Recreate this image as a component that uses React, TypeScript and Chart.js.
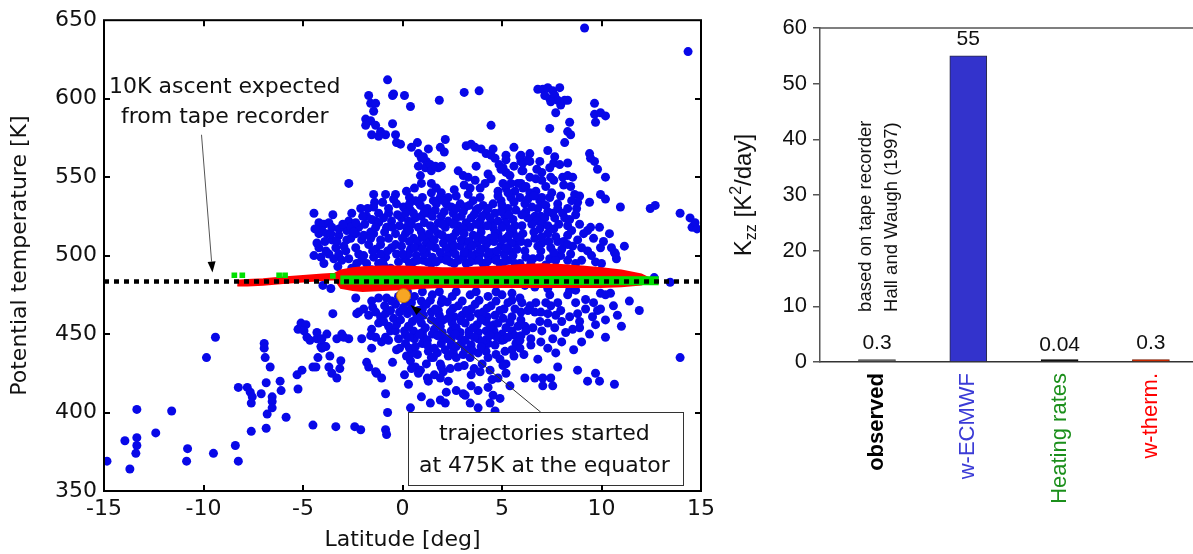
import React, { useEffect, useRef } from 'react';
import { Chart, registerables } from 'chart.js';

Chart.register(...registerables);

const SANS_WIDE = '"DejaVu Sans", "Liberation Sans", sans-serif';
const SANS = '"Liberation Sans", Arial, Helvetica, sans-serif';

// ---------------- Left panel: scatter ----------------
const latTicks = [-15, -10, -5, 0, 5, 10, 15];
const thetaTicks = [350, 400, 450, 500, 550, 600, 650];

// ECMWF trajectories (blue) [latitude, potential temperature]
const blueWest: [number, number][] = [
  [-14.85, 369], [-13.95, 382], [-13.7, 364], [-13.35, 402], [-13.35, 384], [-13.35, 379], [-13.4, 374], [-12.4, 387],
  [-11.6, 401], [-10.8, 377], [-10.85, 369], [-9.85, 435], [-9.4, 448], [-9.5, 374], [-8.4, 379], [-8.25, 369],
  [-8.25, 416], [-7.6, 388], [-7.8, 416], [-7.65, 413], [-7.55, 410], [-7.6, 406], [-7.1, 412], [-6.95, 444],
  [-6.95, 441], [-6.9, 435], [-6.65, 429], [-6.85, 419], [-6.55, 410], [-6.55, 407], [-6.55, 403], [-6.8, 399],
  [-6.85, 390], [-6.15, 420], [-6.1, 414], [-5.85, 397], [-5.25, 415], [-5.3, 424], [-5.05, 427], [-5.25, 453],
  [-5.1, 457], [-4.85, 456], [-4.8, 448], [-4.65, 446], [-4.5, 429], [-4.5, 392], [-4.95, 452],
];

const blueWestCore: [number, number][] = [
  [-4.3, 447], [-4.3, 451], [-4.1, 442], [-4.25, 435], [-3.95, 442], [-3.8, 450], [-3.7, 429], [-3.65, 436],
  [-3.55, 425], [-3.5, 463], [-3.35, 391], [-3.3, 422], [-3.15, 428], [-3.1, 433], [-3.3, 447], [-3.05, 450],
  [-2.7, 447], [-2.4, 391], [-2.1, 389], [-2.05, 447], [-2.35, 473], [-2.3, 463], [-1.8, 432], [-1.7, 429],
  [-1.55, 441], [-1.35, 448], [-1.3, 425], [-1.05, 422], [-0.85, 412], [-0.75, 400], [-0.85, 389], [-0.8, 386],
  [-1.05, 445], [-0.85, 448], [-0.6, 452], [-0.7, 446], [-4.35, 429], [-1.35, 426], [-4.05, 441], [-2.2, 464],
  [-1.95, 466], [-1.7, 462], [-1.35, 464], [-1.1, 461], [-0.85, 463], [-0.6, 465], [-0.45, 460], [-1.2, 457],
  [-0.7, 455], [-1.55, 453], [-0.35, 452], [-1.55, 471], [-1.2, 473], [-0.8, 473], [-4.0, 481], [-3.6, 479],
  [-3.85, 442], [-2.95, 448], [-1.6, 449], [-4.05, 447], [-0.35, 469], [-0.3, 440], [-0.5, 432],
  [-0.2, 474], [-0.55, 471], [-0.2, 447], [-0.9, 468], [-1.5, 467], [-0.95, 458],
];

const blueNorth: [number, number][] = [
  [9.15, 645], [14.35, 630], [-0.75, 612], [-0.5, 602], [0.1, 602], [0.4, 595], [1.85, 599], [3.1, 604], [3.85, 605],
  [6.8, 606], [7.05, 606], [7.3, 607], [7.55, 605], [7.15, 602], [7.4, 600], [7.65, 602], [7.9, 607], [7.8, 599],
  [7.95, 596], [8.15, 599], [8.3, 599], [7.7, 591], [7.45, 598], [9.65, 597], [9.65, 590], [9.7, 585], [9.95, 591],
  [10.2, 589], [8.4, 585], [8.3, 579], [8.45, 577], [8.15, 572], [7.4, 581], [-1.7, 602], [-1.6, 597], [-1.35, 597],
  [-1.45, 592], [-1.85, 587], [-1.6, 586], [-1.35, 583], [-1.1, 579], [-0.85, 577], [-1.2, 576], [-0.5, 584],
  [-1.55, 577], [-1.85, 583], [-0.35, 577], [-0.3, 572], [-0.45, 603], [4.45, 583], [-0.1, 571], [0.75, 572],
  [0.45, 569], [2.15, 574], [2.1, 566], [3.2, 570], [3.45, 571], [3.65, 569], [3.95, 568], [4.2, 565], [4.45, 564],
  [4.65, 562], [4.85, 558], [5.05, 556], [5.2, 553], [5.4, 551], [4.55, 568], [5.6, 569], [5.2, 564], [5.2, 561],
  [5.95, 564], [6.4, 565], [5.95, 560], [6.4, 560], [7.3, 567], [7.65, 563], [7.6, 559], [7.9, 558], [8.3, 559],
  [8.05, 550], [8.3, 551], [8.55, 550], [8.45, 544], [8.65, 539], [8.9, 538], [7.95, 538], [9.4, 565], [9.45, 562],
  [9.65, 560], [9.8, 555], [10.2, 550], [9.95, 539], [10.2, 536], [0.8, 565], [0.95, 562], [1.2, 560], [0.8, 557],
  [1.15, 556], [1.4, 558], [1.45, 554], [1.9, 569], [1.8, 556], [1.3, 568], [0.9, 551], [0.95, 546], [1.65, 557],
  [1.95, 557], [1.05, 563], [2.8, 554], [3.05, 551], [3.3, 550], [3.65, 548], [3.7, 557], [4.3, 552], [4.45, 549],
  [4.15, 546], [5.05, 546], [5.8, 546], [6.0, 554], [6.4, 550], [6.7, 549], [3.4, 543], [3.9, 543], [4.95, 555],
  [5.45, 546], [5.65, 541], [1.45, 546], [1.7, 543], [1.95, 540], [2.7, 538], [3.3, 539], [-2.7, 546], [-1.45, 539],
  [-0.85, 539], [-0.35, 539], [5.9, 563], [6.05, 559], [6.3, 561], [6.05, 554], [5.95, 546], [6.05, 543], [6.4, 540],
  [7.0, 553], [7.4, 556], [6.9, 560], [5.6, 557], [7.2, 544], [7.6, 548], [8.1, 545], [6.7, 541],
];

const blueBand: [number, number][] = [
  [5.45, 537], [4.95, 535], [4.55, 533], [5.3, 530], [5.7, 529], [5.15, 525], [4.65, 527], [1.45, 540], [2.3, 537],
  [1.9, 537], [1.55, 535], [2.2, 533], [2.45, 531], [2.9, 533], [3.15, 531], [3.55, 535], [3.9, 537], [4.05, 532],
  [3.7, 529], [9.4, 534], [8.75, 530], [10.95, 531], [12.45, 530], [12.7, 532], [13.95, 527], [14.45, 524],
  [14.55, 518], [14.7, 521], [14.8, 517], [9.3, 516], [9.45, 518], [10.4, 514], [11.15, 506], [10.65, 502],
  [10.75, 498], [9.3, 503], [9.95, 505], [5.9, 537], [6.3, 536], [6.15, 533], [6.9, 535], [7.05, 533], [7.2, 532],
  [6.8, 530], [6.65, 525], [6.95, 525], [7.15, 524], [6.75, 522], [6.5, 520], [7.0, 520], [7.3, 519], [7.8, 533],
  [7.8, 530], [8.05, 527], [8.15, 524], [8.3, 519], [7.65, 524], [-4.45, 527], [-4.2, 521], [-3.95, 520],
  [-3.7, 521], [-3.55, 518], [-4.2, 514], [-4.05, 516], [-3.8, 514], [-3.55, 510], [-3.35, 505], [-4.2, 505],
  [-4.1, 499], [-3.95, 495], [-3.7, 501], [-3.45, 498], [-3.2, 501], [-3.05, 497], [-2.85, 503], [-2.8, 510],
  [-2.8, 516], [-2.7, 522], [-2.55, 527], [-2.6, 511], [-2.35, 505], [-2.2, 501], [-2.3, 495], [-2.55, 492],
  [-2.05, 510], [-2.05, 497], [-4.3, 508], [-3.6, 514], [-3.2, 513], [-2.6, 518], [-1.45, 531], [-1.2, 527],
  [-0.7, 527], [-0.3, 533], [-1.35, 522], [-0.8, 518], [-0.35, 514], [-1.45, 514], [-1.1, 510], [-0.55, 505],
  [-1.35, 504], [-0.85, 499], [-0.3, 501], [-1.2, 495], [-0.6, 492], [-1.45, 499], [-1.95, 513], [-1.6, 515],
  [-0.7, 511], [-1.95, 500], [-1.8, 495], [-1.1, 501], [-1.1, 507], [-0.35, 507], [-0.7, 530], [-1.55, 523],
  [-1.2, 521], [-0.55, 522], [-1.7, 507], [-1.9, 520], [-1.75, 530], [0.35, 537], [0.65, 535], [1.0, 537],
  [0.05, 531], [0.4, 529], [0.9, 532], [1.25, 530], [-0.05, 524], [0.3, 522], [0.65, 524], [0.95, 525], [1.3, 527],
  [1.65, 529], [1.95, 525], [0.2, 518], [0.8, 518], [1.4, 519], [1.8, 521], [2.3, 522], [2.55, 527], [2.95, 525],
  [3.2, 521], [3.45, 524], [3.9, 522], [4.2, 527], [4.45, 521], [4.8, 522], [5.2, 521], [5.55, 523], [5.65, 519],
  [4.55, 518], [3.95, 518], [3.4, 518], [2.8, 519], [2.15, 518], [0.15, 514], [0.55, 511], [0.95, 515], [1.4, 511],
  [1.8, 514], [2.3, 511], [2.7, 515], [3.15, 509], [3.55, 513], [3.95, 515], [4.4, 511], [4.8, 514], [5.2, 511],
  [5.55, 515], [-0.05, 506], [0.4, 504], [0.8, 506], [1.2, 502], [1.65, 505], [2.05, 508], [2.45, 503], [2.9, 506],
  [3.3, 504], [3.7, 501], [4.15, 505], [4.55, 502], [4.95, 506], [5.4, 503], [5.7, 508], [0.15, 498], [0.55, 496],
  [1.05, 497], [1.45, 495], [1.95, 498], [2.4, 496], [2.8, 497], [3.2, 495], [3.65, 497], [4.05, 495], [4.45, 498],
  [4.9, 495], [5.3, 497], [5.65, 495], [6.05, 514], [6.65, 511], [7.3, 514], [7.8, 509], [8.3, 513], [8.55, 506],
  [7.45, 505], [6.95, 503], [6.15, 503], [6.55, 498], [7.4, 498], [7.95, 500], [8.45, 501], [10.7, 501], [5.9, 495],
  [6.45, 495], [6.3, 508], [7.0, 508], [8.0, 504], [8.8, 510], [9.0, 497], [6.9, 517], [7.6, 517], [5.95, 509],
  [8.7, 495], [7.2, 494], [9.7, 496],
];

// extra dense core of the blue cloud
const blueCoreFill: [number, number][] = [
  [0.3, 501], [0.7, 500], [1.1, 501], [1.5, 499], [1.9, 502], [2.25, 500], [2.65, 501], [3.05, 499], [3.45, 500],
  [3.9, 501], [4.3, 500], [4.7, 499], [5.1, 501], [5.55, 500], [0.35, 509], [0.75, 509], [1.2, 508], [1.6, 510],
  [2.5, 508], [2.95, 510], [3.35, 509], [3.75, 508], [4.25, 508], [4.6, 509], [5.0, 510], [5.45, 508],
  [0.2, 541], [0.6, 543], [2.6, 542], [3.1, 545], [4.8, 541], [5.2, 543], [-2.95, 506], [-3.3, 509], [-3.9, 509],
  [-2.35, 514], [-2.2, 518], [-1.8, 525], [-2.35, 521], [-1.0, 534], [-0.25, 526], [-0.15, 519], [-2.1, 530],
  [-3.2, 517], [-3.85, 503], [-4.45, 500], [-4.4, 517], [-1.55, 491], [-0.95, 494], [6.0, 519], [6.3, 524],
  [6.6, 515], [7.0, 512], [7.35, 509], [7.7, 512], [8.1, 509], [8.5, 516], [8.9, 520], [8.4, 523], [9.1, 514],
  [9.6, 511], [10.1, 509], [9.0, 505], [9.5, 500], [6.2, 499], [6.9, 499], [7.7, 497], [8.3, 497], [6.8, 506],
  [7.6, 502], [8.3, 507], [10.0, 495], [10.5, 505], [9.9, 518], [8.8, 534], [7.4, 537], [7.55, 527], [7.5, 540],
  [5.3, 540], [4.8, 538],
  [0.25, 463], [0.65, 464], [1.05, 462], [1.45, 464], [1.85, 462], [2.6, 461], [3.0, 462], [3.4, 461], [3.8, 463],
  [4.25, 461], [4.65, 462], [5.05, 460], [5.5, 461], [0.1, 452], [0.55, 452], [1.0, 451], [1.6, 453], [2.0, 451],
  [2.45, 452], [2.9, 451], [3.35, 452], [3.8, 451], [4.2, 452], [4.6, 452], [5.0, 450], [5.5, 452], [0.15, 444],
  [1.0, 444], [1.95, 444], [2.45, 443], [2.95, 444], [3.45, 443], [4.3, 444], [5.0, 446], [5.7, 444], [0.25, 477],
  [1.0, 477], [1.85, 477], [2.7, 477], [3.7, 477], [4.7, 477], [5.5, 476], [6.0, 470], [6.7, 470], [6.9, 458],
  [7.3, 457], [7.0, 452], [8.0, 458], [8.4, 461], [8.9, 458], [9.2, 466], [8.7, 470], [9.2, 472], [9.6, 470],
  [10.6, 468], [10.8, 462], [11.0, 455], [9.0, 445], [8.0, 445], [8.6, 440], [6.1, 437], [6.8, 434], [5.6, 436],
  [5.9, 441], [0.2, 436], [0.75, 437], [2.3, 436], [3.05, 437], [3.8, 438], [4.7, 437], [5.5, 440], [0.4, 433],
  [1.2, 431], [2.4, 428], [3.1, 430], [4.0, 431], [4.9, 434], [2.05, 426], [3.6, 428], [4.5, 421], [0.1, 424],
  [0.3, 418], [5.2, 425],
];

// second layer of the densest part
const blueCoreFill2: [number, number][] = [
  [0.2, 470.5], [0.95, 471], [1.4, 471.5], [2.25, 470.5], [3.0, 471], [3.85, 471.5], [4.7, 471], [5.5, 471.5],
  [0.4, 465.5], [1.0, 466], [1.8, 465], [2.55, 466.5], [3.45, 466], [4.25, 466.5], [5.1, 466], [5.95, 464],
  [0.5, 458], [0.95, 457], [1.7, 457.5], [2.05, 459], [2.5, 457], [2.95, 458.5], [3.75, 456], [4.2, 458], [4.6, 456],
  [5.4, 457.5], [5.8, 455], [0.15, 449.5], [0.6, 447], [1.05, 448], [1.5, 450], [2.0, 448], [2.45, 447], [2.85, 448.5],
  [3.35, 449.5], [3.8, 447], [4.2, 446.5], [4.75, 448], [5.1, 446.5], [5.65, 449], [0.5, 438], [1.3, 439], [1.75, 438],
  [2.55, 438.5], [3.5, 439.5], [4.2, 439], [5.15, 439], [-0.15, 464], [-0.3, 456], [-0.15, 441],
  [0.35, 533], [0.8, 534], [1.7, 533], [2.05, 535], [2.7, 530], [3.35, 532], [3.8, 530], [4.3, 530], [5.0, 532],
  [5.6, 534], [0.15, 527], [0.55, 527], [1.1, 528], [1.5, 525], [2.1, 528], [2.7, 524], [3.05, 528], [3.6, 526],
  [4.0, 525], [4.4, 524], [4.95, 528], [5.35, 526], [0.45, 520], [1.1, 521], [1.6, 517], [2.0, 520], [2.55, 520],
  [3.05, 517], [3.7, 520], [4.25, 519], [4.65, 515], [5.0, 518], [5.4, 517], [0.0, 511], [0.35, 516], [1.0, 512],
  [1.35, 514], [2.0, 513], [2.55, 512], [3.1, 514], [3.75, 512], [4.05, 510], [4.6, 512], [5.35, 513], [5.75, 512],
  [0.0, 501], [0.6, 505], [1.0, 504], [1.4, 506], [2.2, 505], [2.6, 506], [3.1, 502], [3.5, 506], [3.9, 504],
  [4.35, 502], [4.75, 503], [5.2, 505], [5.75, 504], [0.35, 495], [0.75, 497], [1.25, 496], [1.7, 496], [2.2, 497],
  [2.6, 495], [3.4, 496], [3.85, 497], [4.25, 496], [4.7, 497], [5.1, 496], [6.2, 528], [6.5, 531], [7.3, 528],
  [7.0, 537], [8.5, 535], [8.3, 530], [6.0, 526], [8.7, 526], [7.85, 520], [6.6, 538], [6.2, 544], [7.0, 548],
  [7.45, 550], [6.75, 555], [-3.0, 520], [-2.45, 515], [-1.6, 511], [-0.9, 515], [-1.35, 518], [-0.5, 518],
  [-0.95, 524], [-2.0, 525], [-1.4, 534], [-0.45, 536], [-3.5, 526], [-3.25, 493], [-2.7, 498], [-1.5, 503],
  [-0.75, 503], [-0.2, 496], [-1.0, 496],
];

const blueSouth: [number, number][] = [
  [0.05, 467], [0.45, 470], [0.8, 465], [1.2, 469], [1.65, 466], [1.95, 470], [2.4, 464], [2.8, 468], [3.2, 465],
  [3.65, 469], [4.05, 464], [4.45, 468], [4.9, 465], [5.3, 470], [5.65, 466], [-0.1, 459], [0.3, 455], [0.7, 460],
  [1.15, 454], [1.45, 459], [1.9, 455], [2.3, 460], [2.7, 454], [3.15, 457], [3.55, 454], [3.95, 459], [4.4, 455],
  [4.8, 457], [5.2, 454], [0.35, 448], [0.85, 450], [1.25, 446], [1.75, 449], [2.25, 447], [2.65, 450], [3.15, 446],
  [3.6, 448], [4.0, 445], [4.4, 449], [5.3, 448], [0.6, 474], [1.5, 475], [2.5, 474], [3.4, 475], [4.3, 474],
  [5.0, 475], [5.9, 473], [2.0, 472], [6.15, 481], [6.65, 480], [7.3, 479], [7.4, 475], [7.2, 470], [7.45, 468],
  [7.8, 470], [8.3, 475], [8.4, 478], [8.7, 478], [9.95, 476], [10.2, 475], [10.45, 476], [11.4, 471], [11.9, 465],
  [6.4, 468], [6.3, 465], [6.65, 464], [6.95, 464], [7.3, 463], [7.7, 462], [7.95, 465], [8.8, 463], [9.8, 465],
  [9.95, 466], [9.55, 461], [10.2, 459], [9.7, 456], [5.95, 459], [6.15, 455], [6.55, 454], [6.2, 452], [5.95, 449],
  [6.45, 447], [6.45, 443], [7.65, 454], [7.55, 447], [7.3, 441], [7.7, 438], [8.2, 451], [8.55, 453], [8.9, 454],
  [9.4, 450], [10.2, 448], [5.9, 446], [6.95, 445], [12.65, 486], [13.45, 483], [0.35, 441], [0.65, 442], [1.25, 443],
  [1.6, 441], [2.15, 440], [2.7, 442], [3.15, 440], [3.95, 442], [4.65, 443], [1.45, 435], [1.9, 431], [2.7, 435],
  [3.4, 435], [4.3, 435], [5.2, 431], [0.65, 429], [0.9, 427], [1.25, 422], [1.6, 424], [1.9, 422], [2.8, 429],
  [3.45, 424], [3.9, 426], [4.4, 427], [4.8, 422], [2.2, 413], [3.05, 412], [3.45, 417], [3.8, 414], [4.3, 416],
  [4.55, 411], [4.9, 409], [1.9, 408], [2.15, 406], [3.4, 406], [3.8, 403], [4.4, 406], [4.65, 401], [0.4, 403],
  [1.4, 406], [0.95, 410], [0.8, 425], [1.55, 435], [1.95, 429], [1.3, 420], [2.3, 420], [2.7, 414], [3.15, 411],
  [5.05, 430], [5.4, 417], [6.15, 422], [6.65, 422], [7.05, 422], [7.45, 422], [7.55, 417], [7.05, 417], [7.8, 429],
  [8.8, 427], [9.3, 420], [9.7, 425], [9.9, 420], [10.65, 418], [13.95, 435], [0.45, 428],
];

// w-thermodynamic trajectories (red band)
const redLat = [-8.3, -7.8, -7, -6, -5, -4, -3.4, -3.1, -2.5, -2, -1, 0, 1, 2, 3, 4, 5, 6, 7, 8, 9, 10, 11, 12, 12.4];
const redUpper = [484, 484.5, 485, 486, 487, 488, 488.5, 490.5, 492, 492.5, 493, 493, 492.5, 492, 492, 492.5, 493, 494, 494.5, 494, 493, 492, 490.5, 488, 485.5];
const redLower = [481, 481, 481.5, 482.5, 483.5, 484.5, 485, 479.5, 478, 477.5, 478, 478.5, 479.5, 480, 480, 480, 480, 480, 480, 480, 480, 480, 480.5, 481.5, 483.5];

// heating-rate trajectories (green)
const greenBandLat = [-2.9, 12.65];
const greenBandTheta = [484.5, 484];
const greenSquares: [number, number][] = [[-8.45, 487.5], [-8.05, 487.5], [-6.2, 487.5], [-5.9, 487.5], [-3.5, 487]];

const tapeRecorderTheta = 483.5;
const tapeRecorderLat = [-15, 15];
const startPoint: [number, number] = [0.05, 474.5];

// annotations (data coordinates)
const ascentNote = ['10K ascent expected', 'from tape recorder'];
const ascentNoteLat = -8.93;
const ascentNoteTheta = [603.6, 584.5];
const ascentArrow = [-10.1, 577, -9.55, 489.2];
const startNote = ['trajectories started', 'at 475K at the equator'];
const startNoteLat = 7.13;
const startNoteTheta = [382.4, 362.3];
const startNoteBox = [0.3, 14.1, 400.2, 353.8];
const startArrow = [6.95, 400.2, 0.4, 468.5];

// ---------------- Right panel: bars ----------------
const barX = [1, 2, 3, 4];
const barCategories = ['observed', 'w-ECMWF', 'Heating rates', 'w-therm.'];
const barValues = [0.3, 55, 0.04, 0.3];
const barValueText = ['0.3', '55', '0.04', '0.3'];
const barTickValues = [0, 10, 20, 30, 40, 50, 60];
const barNote = ['based on tape recorder', 'Hall and Waugh (1997)'];
const barNoteX = [0.935, 1.219];
const barNoteY = 9;

const barLabelColors = ['#000000', '#3b3bd6', '#1b8f1b', '#ff0000'];
const barFillColors = ['#666666', '#3333cc', '#111111', '#cc2a00'];
const barBorderColors = ['#444444', '#2a2a44', '#000000', '#7a1a00'];

function drawArrow(ctx: any, x1: number, y1: number, x2: number, y2: number, color: string, headLen: number, headHalf: number) {
  const ang = Math.atan2(y2 - y1, x2 - x1);
  const bx = x2 - headLen * Math.cos(ang);
  const by = y2 - headLen * Math.sin(ang);
  ctx.strokeStyle = color;
  ctx.lineWidth = 1;
  ctx.beginPath();
  ctx.moveTo(x1, y1);
  ctx.lineTo(bx, by);
  ctx.stroke();
  ctx.fillStyle = '#000';
  ctx.beginPath();
  ctx.moveTo(x2, y2);
  ctx.lineTo(bx + headHalf * Math.sin(ang), by - headHalf * Math.cos(ang));
  ctx.lineTo(bx - headHalf * Math.sin(ang), by + headHalf * Math.cos(ang));
  ctx.closePath();
  ctx.fill();
}

const scatterDecor = {
  id: 'scatterDecor',
  afterDatasetsDraw(chart: any) {
    const { ctx, scales } = chart;
    const px = (v: number) => scales.x.getPixelForValue(v);
    const py = (v: number) => scales.y.getPixelForValue(v);
    ctx.save();
    const bl = px(startNoteBox[0]), br = px(startNoteBox[1]);
    const bt = py(startNoteBox[2]), bb = py(startNoteBox[3]);
    ctx.fillStyle = '#ffffff';
    ctx.fillRect(bl, bt, br - bl, bb - bt);
    ctx.strokeStyle = '#333';
    ctx.lineWidth = 1;
    ctx.strokeRect(Math.round(bl) + 0.5, Math.round(bt) + 0.5, Math.round(br - bl), Math.round(bb - bt));
    ctx.fillStyle = '#111';
    ctx.font = `22px ${SANS_WIDE}`;
    ctx.textAlign = 'center';
    ctx.textBaseline = 'alphabetic';
    startNote.forEach((t, i) => ctx.fillText(t, px(startNoteLat), py(startNoteTheta[i])));
    ascentNote.forEach((t, i) => ctx.fillText(t, px(ascentNoteLat), py(ascentNoteTheta[i])));
    drawArrow(ctx, px(ascentArrow[0]), py(ascentArrow[1]), px(ascentArrow[2]), py(ascentArrow[3]), '#555', 11, 4);
    drawArrow(ctx, px(startArrow[0]), py(startArrow[1]), px(startArrow[2]), py(startArrow[3]), '#333', 11, 4);
    ctx.restore();
  },
  afterDraw(chart: any) {
    const { ctx, chartArea: a, scales } = chart;
    const px = (v: number) => scales.x.getPixelForValue(v);
    const py = (v: number) => scales.y.getPixelForValue(v);
    ctx.save();
    ctx.strokeStyle = '#000';
    ctx.lineWidth = 2;
    ctx.strokeRect(a.left, a.top, a.right - a.left, a.bottom - a.top);
    ctx.beginPath();
    latTicks.slice(1, -1).forEach((v) => {
      const X = Math.round(px(v));
      ctx.moveTo(X, a.bottom); ctx.lineTo(X, a.bottom - 6);
      ctx.moveTo(X, a.top); ctx.lineTo(X, a.top + 6);
    });
    thetaTicks.slice(1, -1).forEach((v) => {
      const Y = Math.round(py(v));
      ctx.moveTo(a.left, Y); ctx.lineTo(a.left + 6, Y);
      ctx.moveTo(a.right, Y); ctx.lineTo(a.right - 6, Y);
    });
    ctx.stroke();
    ctx.fillStyle = '#111';
    ctx.font = `22px ${SANS_WIDE}`;
    ctx.textAlign = 'center';
    ctx.textBaseline = 'alphabetic';
    ctx.fillText('Latitude [deg]', (a.left + a.right) / 2, 546);
    ctx.translate(26, (a.top + a.bottom) / 2);
    ctx.rotate(-Math.PI / 2);
    ctx.fillText('Potential temperature [K]', 0, 0);
    ctx.restore();
  },
};

function ScatterPanel() {
  const ref = useRef<HTMLCanvasElement>(null);
  useEffect(() => {
    const pts = (arr: [number, number][]) => arr.map(([x, y]) => ({ x, y }));
    const blue = pts([...blueWest, ...blueWestCore, ...blueNorth, ...blueBand, ...blueCoreFill, ...blueCoreFill2, ...blueSouth]);
    const tickFont = { family: SANS_WIDE, size: 22 };
    const chart = new Chart(ref.current as HTMLCanvasElement, {
      type: 'scatter',
      data: {
        datasets: [
          {
            label: 'start', data: [{ x: startPoint[0], y: startPoint[1] }], pointRadius: 7,
            backgroundColor: '#f7a623', borderColor: '#b86e00', borderWidth: 1, order: 0,
          },
          {
            label: 'tape recorder', data: tapeRecorderLat.map((x) => ({ x, y: tapeRecorderTheta })), showLine: true,
            borderColor: '#000', borderWidth: 4.5, borderDash: [5, 5], borderCapStyle: 'butt', pointRadius: 0, order: 1,
          },
          {
            label: 'heating band', data: greenBandLat.map((x, i) => ({ x, y: greenBandTheta[i] })), showLine: true,
            borderColor: '#00e000', borderWidth: 9, borderCapStyle: 'square', pointRadius: 0, order: 2,
          },
          {
            label: 'heating', data: pts(greenSquares), pointStyle: 'rect', pointRadius: 4,
            backgroundColor: '#00e000', borderWidth: 0, order: 2,
          },
          {
            label: 'w-therm upper', data: redLat.map((x, i) => ({ x, y: redUpper[i] })), showLine: true,
            borderColor: '#ff0000', borderWidth: 2, pointRadius: 0, tension: 0, fill: '+1',
            backgroundColor: '#ff0000', order: 3,
          },
          {
            label: 'w-therm lower', data: redLat.map((x, i) => ({ x, y: redLower[i] })), showLine: true,
            borderColor: '#ff0000', borderWidth: 2, pointRadius: 0, tension: 0, fill: false, order: 3,
          },
          {
            label: 'w-ECMWF', data: blue, pointRadius: 4.5, backgroundColor: '#0808e8', borderWidth: 0, order: 5,
          },
        ],
      } as any,
      options: {
        animation: false,
        responsive: false,
        devicePixelRatio: 1,
        events: [],
        layout: { padding: { left: 0, right: 16, top: 19, bottom: 0 } },
        plugins: { legend: { display: false }, tooltip: { enabled: false } },
        scales: {
          x: {
            type: 'linear', min: -15, max: 15,
            afterBuildTicks: (s: any) => { s.ticks = latTicks.map((v) => ({ value: v })); },
            afterFit: (s: any) => { s.height = 63; },
            grid: { display: false, drawTicks: false },
            border: { display: false },
            ticks: { font: tickFont, color: '#111', padding: 5, maxRotation: 0, autoSkip: false },
          },
          y: {
            type: 'linear', min: 350, max: 650,
            afterBuildTicks: (s: any) => { s.ticks = thetaTicks.map((v) => ({ value: v })); },
            afterFit: (s: any) => { s.width = 104; },
            grid: { display: false, drawTicks: false },
            border: { display: false },
            ticks: { font: tickFont, color: '#111', padding: 7, autoSkip: false },
          },
        },
      } as any,
      plugins: [scatterDecor],
    });
    return () => chart.destroy();
  }, []);
  return <canvas ref={ref} width={720} height={554} style={{ display: 'block', width: 720, height: 554 }} />;
}

const barDecor = {
  id: 'barDecor',
  afterDraw(chart: any) {
    const { ctx, chartArea: a, scales } = chart;
    const px = (v: number) => scales.x.getPixelForValue(v);
    const py = (v: number) => scales.y.getPixelForValue(v);
    ctx.save();
    ctx.strokeStyle = '#555';
    ctx.lineWidth = 1.5;
    ctx.beginPath();
    ctx.moveTo(a.left, a.top);
    ctx.lineTo(a.right, a.top);
    ctx.stroke();
    ctx.fillStyle = '#111';
    ctx.font = `21px ${SANS}`;
    ctx.textAlign = 'center';
    ctx.textBaseline = 'alphabetic';
    barX.forEach((x, i) => ctx.fillText(barValueText[i], px(x), py(barValues[i]) - 11));
    ctx.font = `18.5px ${SANS}`;
    ctx.textAlign = 'left';
    barNote.forEach((t, i) => {
      ctx.save();
      ctx.translate(px(barNoteX[i]), py(barNoteY));
      ctx.rotate(-Math.PI / 2);
      ctx.fillText(t, 0, 0);
      ctx.restore();
    });
    const big = `24px ${SANS}`;
    const small = `16px ${SANS}`;
    const parts = [
      { t: 'K', f: big, dy: 0 },
      { t: 'zz', f: small, dy: 5 },
      { t: ' [K', f: big, dy: 0 },
      { t: '2', f: small, dy: -10 },
      { t: '/day]', f: big, dy: 0 },
    ];
    let total = 0;
    parts.forEach((p) => { ctx.font = p.f; total += ctx.measureText(p.t).width; });
    ctx.translate(31, (a.top + a.bottom) / 2);
    ctx.rotate(-Math.PI / 2);
    let xx = -total / 2;
    parts.forEach((p) => {
      ctx.font = p.f;
      ctx.fillText(p.t, xx, p.dy);
      xx += ctx.measureText(p.t).width;
    });
    ctx.restore();
  },
};

function BarPanel() {
  const ref = useRef<HTMLCanvasElement>(null);
  useEffect(() => {
    const chart = new Chart(ref.current as HTMLCanvasElement, {
      type: 'bar',
      data: {
        datasets: [
          {
            label: 'Kzz',
            data: barX.map((x, i) => ({ x, y: barValues[i] })),
            backgroundColor: barFillColors,
            borderColor: barBorderColors,
            borderWidth: 1,
            barThickness: 37,
            minBarLength: 2.5,
          },
        ],
      } as any,
      options: {
        animation: false,
        responsive: false,
        devicePixelRatio: 1,
        events: [],
        layout: { padding: { left: 0, right: 0, top: 28, bottom: 0 } },
        plugins: { legend: { display: false }, tooltip: { enabled: false } },
        scales: {
          x: {
            type: 'linear', min: 0.376, max: 4.461, offset: false,
            afterBuildTicks: (s: any) => { s.ticks = barX.map((v) => ({ value: v })); },
            afterFit: (s: any) => { s.height = 192; },
            grid: { display: false, drawTicks: false, offset: false },
            border: { display: true, color: '#333', width: 1.5 },
            ticks: {
              autoSkip: false, minRotation: 90, maxRotation: 90, padding: 11,
              callback: (v: any) => barCategories[barX.indexOf(Number(v))] ?? '',
              color: (c: any) => barLabelColors[c.index] ?? '#000',
              font: (c: any) => ({ family: SANS, size: 22, weight: c.index === 0 ? 'bold' : 'normal' }),
            },
          },
          y: {
            type: 'linear', min: 0, max: 60,
            afterBuildTicks: (s: any) => { s.ticks = barTickValues.map((v) => ({ value: v })); },
            afterFit: (s: any) => { s.width = 100; },
            grid: { display: true, drawOnChartArea: false, drawTicks: true, tickLength: 7, color: '#555', lineWidth: 1.5 },
            border: { display: true, color: '#555', width: 1.5 },
            ticks: { padding: 6, color: '#111', font: { family: SANS, size: 22 }, autoSkip: false },
          },
        },
      } as any,
      plugins: [barDecor],
    });
    return () => chart.destroy();
  }, []);
  return <canvas ref={ref} width={473} height={554} style={{ display: 'block', width: 473, height: 554 }} />;
}

export default function App() {
  return (
    <div style={{ position: 'absolute', left: 0, top: 0, width: 1193, height: 554, background: '#ffffff' }}>
      <div style={{ position: 'absolute', left: 0, top: 0, width: 720, height: 554 }}>
        <ScatterPanel />
      </div>
      <div style={{ position: 'absolute', left: 720, top: 0, width: 473, height: 554 }}>
        <BarPanel />
      </div>
    </div>
  );
}
